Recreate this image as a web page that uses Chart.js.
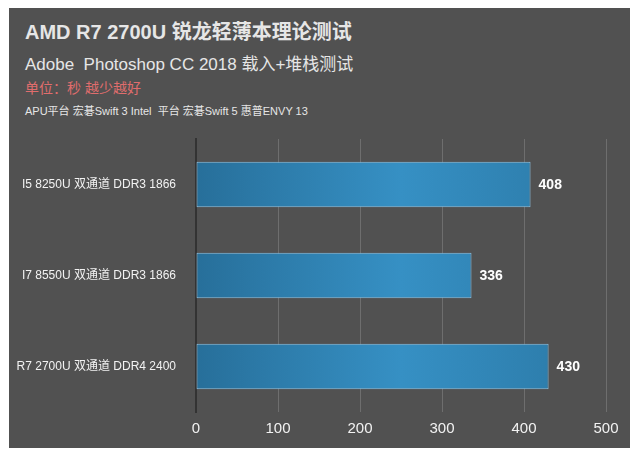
<!DOCTYPE html>
<html>
<head>
<meta charset="utf-8">
<script src="https://cdn.jsdelivr.net/npm/chart.js@4/dist/chart.umd.min.js"></script>
<style>
  body { margin: 0; background: #fff; font-family: "Liberation Sans", "Noto Sans CJK SC", sans-serif; }
  #panel { position: absolute; left: 9px; top: 8px; width: 621px; height: 440px; background: #515151; }
  .t { position: absolute; left: 25px; white-space: nowrap; }
  #wrap { position: absolute; left: 9px; top: 8px; width: 621px; height: 440px; }
</style>
</head>
<body>
<div id="panel"></div>
<div class="t" style="top:16px;font-size:20px;font-weight:bold;color:#e6e6e6">AMD R7 2700U 锐龙轻薄本理论测试</div>
<div class="t" style="top:50px;font-size:17px;color:#e6e6e6">Adobe&nbsp; Photoshop CC 2018 载入+堆栈测试</div>
<div class="t" style="top:77px;font-size:14px;color:#e06d6d">单位：秒 越少越好</div>
<div class="t" style="top:102px;font-size:11px;color:#e6e6e6">APU平台 宏碁Swift 3 Intel&nbsp; 平台 宏碁Swift 5 惠普ENVY 13</div>
<div id="wrap"><canvas id="c"></canvas></div>
<script>
// ----------------- Data -----------------
const categories = ["I5 8250U 双通道 DDR3 1866", "I7 8550U 双通道 DDR3 1866", "R7 2700U 双通道 DDR4 2400"];
const seconds = [408, 336, 430];
const xTicks = [0, 100, 200, 300, 400, 500];

// ----------------- Helpers -----------------
function barGradient(ctx) {
  const area = ctx.chart.chartArea;
  if (!area) return "#2f86b8";
  const g = ctx.chart.ctx.createLinearGradient(area.left, 0, area.right, 0);
  g.addColorStop(0, "#276f9a");
  g.addColorStop(0.5, "#3690c4");
  g.addColorStop(0.85, "#2e7fae");
  g.addColorStop(1, "#276f9a");
  return g;
}

const valueLabels = {
  id: "valueLabels",
  afterDatasetsDraw(chart) {
    const c = chart.ctx;
    c.save();
    c.font = "bold 14px 'Liberation Sans', sans-serif";
    c.fillStyle = "#ffffff";
    c.textBaseline = "middle";
    chart.getDatasetMeta(0).data.forEach((bar, i) => {
      c.fillText(String(seconds[i]), bar.x + 8, bar.y + 1);
    });
    c.restore();
  }
};

Chart.defaults.font.family = "'Liberation Sans', 'Noto Sans CJK SC', sans-serif";

new Chart(document.getElementById("c"), {
  type: "bar",
  data: {
    labels: categories,
    datasets: [{
      data: seconds,
      backgroundColor: barGradient,
      borderColor: "#8fc3e3",
      borderWidth: 1,
      borderSkipped: false,
      categoryPercentage: 1,
      barPercentage: 0.5
    }]
  },
  options: {
    indexAxis: "y",
    responsive: true,
    maintainAspectRatio: false,
    animation: false,
    layout: { padding: { top: 131, right: 24, bottom: 2, left: 0 } },
    plugins: { legend: { display: false }, tooltip: { enabled: false } },
    scales: {
      x: {
        min: 0, max: 500,
        afterBuildTicks: axis => { axis.ticks = xTicks.map(v => ({ value: v })); },
        grid: { color: "#6e6e6e", drawTicks: false },
        border: { display: false },
        ticks: { color: "#f2f2f2", font: { size: 15 }, padding: 8 }
      },
      y: {
        afterFit: axis => { axis.width = 187; },
        grid: { display: false },
        border: { color: "#333333", width: 2 },
        ticks: { color: "#f2f2f2", font: { size: 12 }, padding: 12 }
      }
    }
  },
  plugins: [valueLabels]
});
</script>
</body>
</html>
